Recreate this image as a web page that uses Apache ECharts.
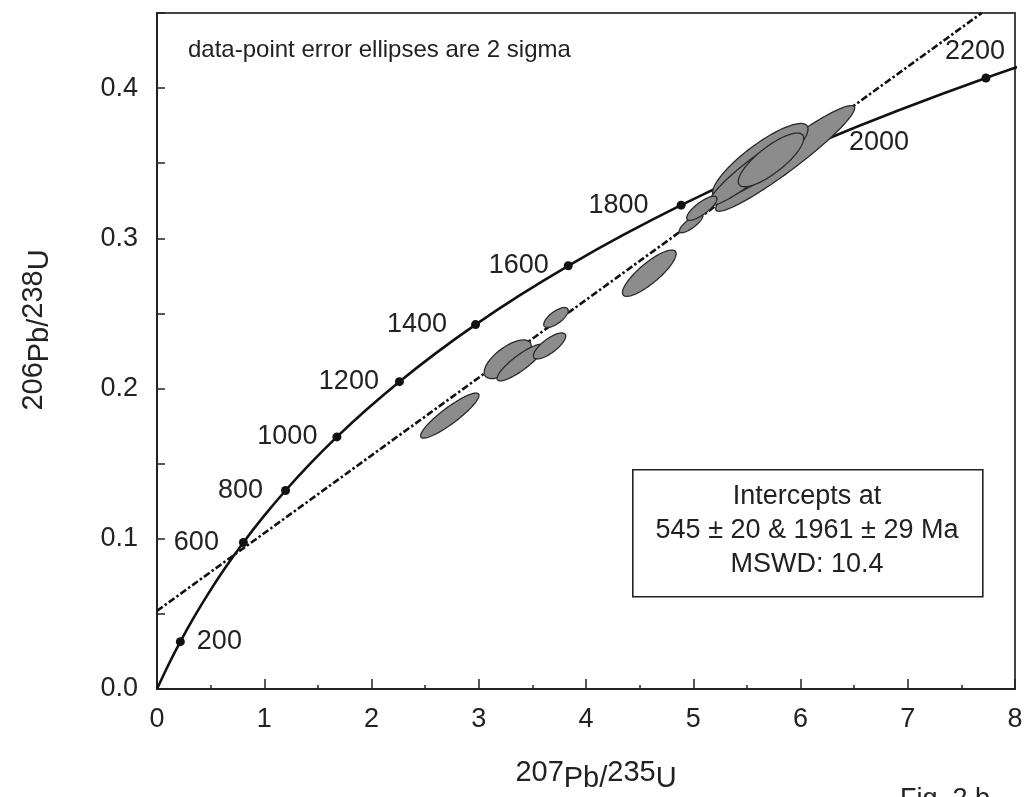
<!DOCTYPE html>
<html><head><meta charset="utf-8">
<script src="https://cdn.jsdelivr.net/npm/echarts@6/dist/echarts.min.js"></script>
<style>html,body{margin:0;padding:0;background:#fff}#c{width:1026px;height:797px}</style>
</head><body><div id="c"></div>
<script>
// Concordia curve (ages in Ma) – ratios
const concordiaAges = [0,100,200,300,400,500,600,700,800,900,1000,1100,1200,1300,1400,1500,1600,1700,1800,1900,2000,2100,2200,2300];
const concordiaX = [0,0.10350,0.21771,0.34374,0.48281,0.63628,0.80563,0.99251,1.19873,1.42629,1.67741,1.95452,2.26030,2.59774,2.97010,3.38099,3.83442,4.33477,4.88690,5.49619,6.16853,6.91045,7.72921,8.63265];
const concordiaY = [0,0.015633,0.031511,0.047637,0.064016,0.080650,0.097544,0.114702,0.132129,0.149828,0.167804,0.186061,0.204603,0.223435,0.242562,0.261987,0.281716,0.301754,0.322105,0.342774,0.363791,0.385086,0.406740,0.428733];
const markedAges = [200,600,800,1000,1200,1400,1600,1800,2000,2200];

// Discordia (dash-dot) endpoints
const discordiaX = [0, 7.69];
const discordiaY = [0.052, 0.45];

// Error ellipses: centre, half-extent in x and y (2 sigma), correlation
const ellipseX   = [5.857, 5.625, 5.55, 5.725, 2.73, 3.27, 3.39, 3.66, 3.72, 4.59, 4.98, 5.08];
const ellipseY   = [0.3532, 0.3516, 0.345, 0.3522, 0.182, 0.2195, 0.2173, 0.2284, 0.2473, 0.2768, 0.3099, 0.3200];
const ellipseSx  = [0.648, 0.445, 0.4078, 0.3051, 0.272, 0.2192, 0.2187, 0.1505, 0.1138, 0.25, 0.1095, 0.1412];
const ellipseSy  = [0.0352, 0.02487, 0.02315, 0.01787, 0.015, 0.01288, 0.01218, 0.00864, 0.00665, 0.01541, 0.0062, 0.00802];
const ellipseRho = [0.952, 0.8515, 0.932, 0.803, 0.899, 0.675, 0.864, 0.7586, 0.697, 0.8366, 0.808, 0.796];

const yTickLabels = ['0.0','0.1','0.2','0.3','0.4'];
const noteText = 'data-point error ellipses are 2 sigma';
const boxLines = ['Intercepts at', '545 \u00b1 20 & 1961 \u00b1 29 Ma', 'MSWD: 10.4'];

// ---- styling (kept separate from data) ----
const FONT = "'Liberation Sans', Arial, Helvetica, sans-serif";
const ageLabelPlacement = {
  200:{position:'right',distance:12}, 600:{position:'left',distance:20}, 800:{position:'left',distance:18},
  1000:{position:'left',distance:15}, 1200:{position:'left',distance:16}, 1400:{position:'left',distance:24},
  1600:{position:'left',distance:15}, 1800:{position:'left',distance:28}, 2000:{position:'right',distance:26},
  2200:{position:'top',distance:8,offset:[-11,0]}
};

const concordiaData = concordiaX.map((x,i)=>[x, concordiaY[i]]);
const discordiaData = discordiaX.map((x,i)=>[x, discordiaY[i]]);
const dotData = markedAges.map(a=>{
  const i = concordiaAges.indexOf(a);
  return {value:[concordiaX[i], concordiaY[i], a], label: ageLabelPlacement[a]};
});
const ellipseData = ellipseX.map((x,i)=>[x, ellipseY[i], ellipseSx[i], ellipseSy[i], ellipseRho[i]]);

const richName = {
  sup: {fontSize: 29, lineHeight: 28, verticalAlign: 'top', fontFamily: FONT, color:'#222'},
  base:{fontSize: 29, lineHeight: 42, verticalAlign: 'middle', fontFamily: FONT, color:'#222'}
};

const chart = echarts.init(document.getElementById('c'), null, {renderer:'canvas'});
chart.setOption({
  animation: false,
  backgroundColor: '#fff',
  grid: {left:157, right:11, top:13, bottom:108, show:true, borderColor:'#444', borderWidth:2, outerBoundsMode:'none', containLabel:false},
  xAxis: {
    type:'value', min:0, max:8, interval:1,
    axisLine:{show:true, onZero:false, lineStyle:{color:'#222', width:2}},
    axisTick:{show:true, inside:true, length:10, lineStyle:{color:'#222', width:1.5}},
    minorTick:{show:true, splitNumber:2, length:4, lineStyle:{color:'#222', width:1.5}},
    splitLine:{show:false},
    axisLabel:{fontSize:27, color:'#222', margin:17, fontFamily:FONT},
    name:'{sup|207}{base|Pb/}{sup|235}{base|U}', nameLocation:'middle', nameGap:69,
    nameTextStyle:{rich:richName, padding:[0,0,0,20]}
  },
  yAxis: {
    type:'value', min:0, max:0.45, interval:0.05,
    axisLine:{show:true, onZero:false, lineStyle:{color:'#222', width:2}},
    axisTick:{show:true, inside:true, length:8, lineStyle:{color:'#222', width:1.5}},
    splitLine:{show:false},
    axisLabel:{fontSize:27, color:'#222', margin:19, fontFamily:FONT,
      formatter: v => { const i = Math.round(v*10); return (Math.abs(v*10 - i) < 1e-6 && i < yTickLabels.length) ? yTickLabels[i] : ''; }},
    name:'{sup|206}{base|Pb/}{sup|238}{base|U}', nameLocation:'middle', nameGap:96,
    nameTextStyle:{rich:richName, padding:[0,0,0,42]}
  },
  series: [
    {type:'line', data:concordiaData, showSymbol:false, smooth:0.3, silent:true, z:2,
     lineStyle:{color:'#111', width:2.6}},
    {type:'line', data:discordiaData, showSymbol:false, silent:true, z:2,
     lineStyle:{color:'#111', width:2.6, type:[7,2.5,2.5,2.5]}},
    {type:'scatter', data:dotData, symbolSize:9, silent:true, z:3,
     itemStyle:{color:'#111', opacity:1},
     label:{show:true, fontSize:27, color:'#222', opacity:1, fontFamily:FONT, formatter: p => String(p.value[2])}},
    {type:'custom', data:ellipseData, clip:true, silent:true, z:5,
     encode:{x:0, y:1},
     renderItem: function(params, api){
       const cx = api.value(0), cy = api.value(1), sx = api.value(2), sy = api.value(3), r = api.value(4);
       const k = Math.sqrt(1 - r*r);
       const pts = [];
       const N = 120;
       for (let i = 0; i < N; i++) {
         const t = i / N * Math.PI * 2;
         pts.push(api.coord([cx + sx*Math.cos(t), cy + sy*(r*Math.cos(t) + k*Math.sin(t))]));
       }
       return {type:'polygon', shape:{points:pts}, style:{fill:'#8c8c8c', stroke:'#2a2a2a', lineWidth:1.3}};
     }}
  ],
  graphic: [
    {type:'text', left:188, top:38, z:10, style:{text:noteText, fontSize:24, fill:'#222', fontFamily:FONT}},
    {type:'rect', left:632, top:469, z:10, shape:{width:350, height:127}, style:{fill:'#fff', stroke:'#222', lineWidth:1.6}},
    {type:'text', x:807, y:531, z:11, style:{text:boxLines.join('\n'), fontSize:27, lineHeight:34, align:'center', verticalAlign:'middle', fill:'#222', fontFamily:FONT}},
    {type:'text', left:900, top:786, z:10, style:{text:'Fig. 2 b', fontSize:27, fill:'#222', fontFamily:FONT}}
  ]
});
</script>
</body></html>
